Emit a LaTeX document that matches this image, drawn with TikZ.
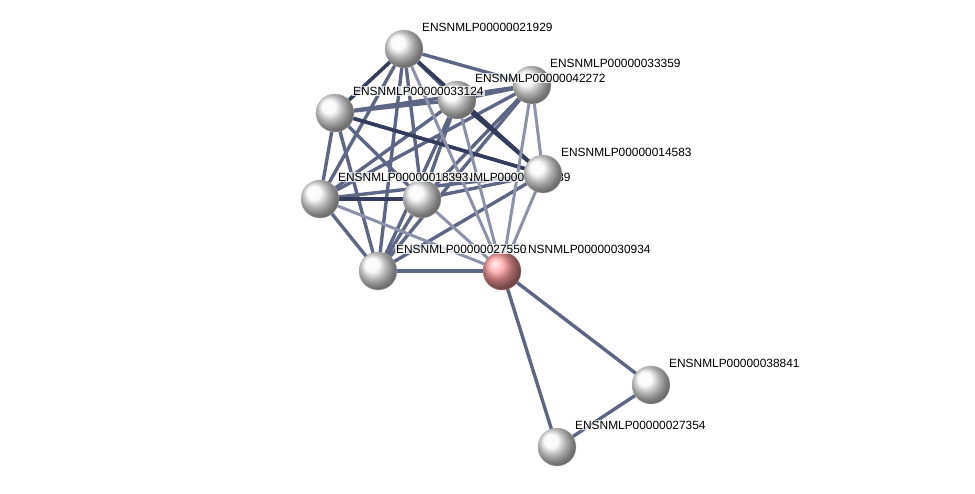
\documentclass[tikz,border=0pt]{standalone}
\usepackage{fontspec}
\setmainfont{Liberation Sans}
\usetikzlibrary{positioning}
\definecolor{linkdark}{HTML}{333C5C}
\definecolor{linkmid}{HTML}{5E6686}
\definecolor{linklight}{HTML}{8C92AA}

\tikzset{
  prot/.style={circle, minimum size=38pt, inner sep=0pt, shading=ball, ball color=gray!6, draw=gray!60, line width=0.4pt},
  protred/.style={prot, ball color=red!38, draw=red!40!black!50},
  plabel/.style={anchor=west, font=\fontsize{11.9}{12}\selectfont, inner sep=1pt, fill=white, fill opacity=0.75, text opacity=1},
  edark/.style={draw=linkdark, line width=3.6pt},
  emid/.style={draw=linkmid, line width=3.4pt},
  elight/.style={draw=linklight, line width=3pt}
}

\begin{document}
\begin{tikzpicture}[x=1pt, y=-1pt]
\useasboundingbox (0,0) rectangle (975,493);
% posiciones de las proteinas (coordenadas en pixeles)
\coordinate (p21929) at (404,49);
\coordinate (p33359) at (532,85);
\coordinate (p42272) at (457,100);
\coordinate (p33124) at (335,113);
\coordinate (p14583) at (543,174);
\coordinate (p18393) at (320,199);
\coordinate (p22839) at (422,199);
\coordinate (p27550) at (378,271);
\coordinate (p30934) at (502,271);
\coordinate (p38841) at (651,385);
\coordinate (p27354) at (557,447);

% enlaces del grupo
\foreach \a/\b in {p21929/p33359, p21929/p42272, p21929/p18393, p21929/p22839,
    p21929/p27550, p33359/p33124, p33359/p18393, p33359/p22839, p33359/p27550,
    p42272/p33124, p42272/p18393, p42272/p22839, p42272/p27550, p42272/p33359,
    p33124/p18393, p33124/p22839, p33124/p27550, p14583/p18393, p14583/p22839,
    p14583/p27550, p18393/p27550, p22839/p27550, p14583/p33124,
    p27550/p30934, p30934/p38841, p30934/p27354, p38841/p27354}
  \draw[emid] (\a) -- (\b);
\foreach \a/\b in {p21929/p33124, p21929/p14583, p33124/p14583, p18393/p22839,
    p42272/p14583}
  \draw[edark] (\a) -- (\b);
\foreach \a/\b in {p33359/p14583, p30934/p21929, p30934/p42272, p30934/p33359,
    p30934/p14583, p30934/p22839, p30934/p18393}
  \draw[elight] (\a) -- (\b);

% bolas y etiquetas
\foreach \p/\t/\s in {p33359/ENSNMLP00000033359/prot, p42272/ENSNMLP00000042272/prot,
    p33124/ENSNMLP00000033124/prot, p21929/ENSNMLP00000021929/prot,
    p22839/ENSNMLP00000022839/prot, p14583/ENSNMLP00000014583/prot,
    p18393/ENSNMLP00000018393/prot, p30934/ENSNMLP00000030934/protred,
    p27550/ENSNMLP00000027550/prot, p38841/ENSNMLP00000038841/prot,
    p27354/ENSNMLP00000027354/prot}
{
  \node[\s] (n\p) at (\p) {};
  \node[plabel] (l\p) at ([xshift=17pt, yshift=22pt]\p) {\t};
}
\end{tikzpicture}
\end{document}
